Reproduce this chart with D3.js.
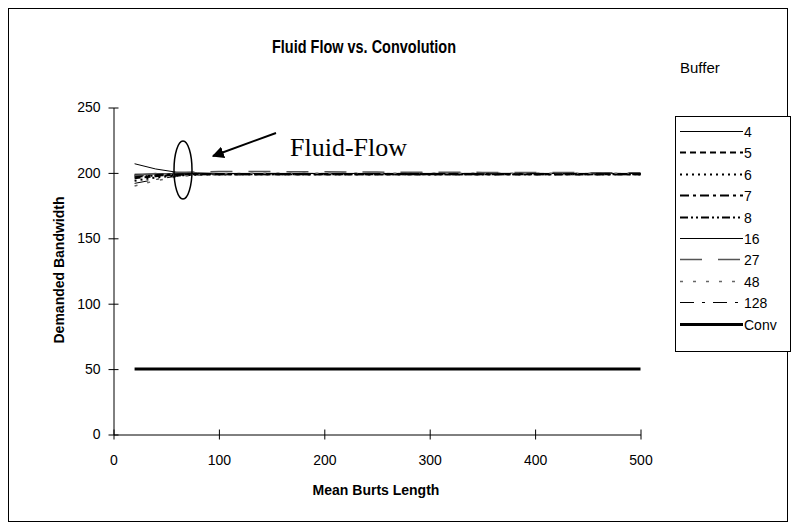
<!DOCTYPE html>
<html>
<head>
<meta charset="utf-8">
<script src="https://cdn.jsdelivr.net/npm/d3@7"></script>
<style>
  html, body { margin: 0; padding: 0; background: #fff; }
  svg { display: block; }
</style>
</head>
<body>
<svg id="chart" width="796" height="530"></svg>
<script>
// ---- Data ----
const xValues = [20, 40, 60, 80, 100, 150, 200, 250, 300, 350, 400, 450, 500];
const buf4   = [207, 203, 200.5, 200, 199.6, 199.6, 199.6, 199.6, 199.6, 199.6, 199.6, 199.6, 199.6];
const buf5   = [196, 197.5, 198.5, 199, 199, 199, 199, 199, 199, 199, 199, 199, 199];
const buf6   = [194, 196.5, 198, 198.6, 199, 199, 199, 199, 199, 199, 199, 199, 199];
const buf7   = [198, 198.5, 199, 199, 199, 199, 199, 199, 199, 199, 199, 199, 199];
const buf8   = [197, 198, 198.5, 199, 199, 199, 199, 199, 199, 199, 199, 199, 199];
const buf16  = [199, 199.2, 199.4, 199.5, 199.5, 199.5, 199.5, 199.5, 199.5, 199.5, 199.5, 199.5, 199.5];
const buf27  = [198, 199.5, 200.3, 200.8, 201, 201, 200.8, 200.6, 200.5, 200.4, 200.3, 200.2, 200.2];
const buf48  = [190, 194, 197, 198.6, 199.4, 199.8, 199.8, 199.8, 199.8, 199.8, 199.8, 199.8, 199.8];
const buf128 = [192, 195, 197.5, 198.8, 199.3, 199.6, 199.6, 199.6, 199.6, 199.6, 199.6, 199.6, 199.6];
const conv   = [50, 50, 50, 50, 50, 50, 50, 50, 50, 50, 50, 50, 50];
const seriesNames = ["4", "5", "6", "7", "8", "16", "27", "48", "128", "Conv"];
const seriesValues = [buf4, buf5, buf6, buf7, buf8, buf16, buf27, buf48, buf128, conv];
const xTicks = [0, 100, 200, 300, 400, 500];
const yTicks = [0, 50, 100, 150, 200, 250];

// ---- Styles ----
const styles = {
  "4":    {stroke: "#000", width: 1, dash: null},
  "5":    {stroke: "#000", width: 2, dash: "6,4"},
  "6":    {stroke: "#000", width: 2, dash: "2,4"},
  "7":    {stroke: "#000", width: 2, dash: "9,4,3,4"},
  "8":    {stroke: "#000", width: 2, dash: "8,3,2,3,2,3"},
  "16":   {stroke: "#000", width: 1, dash: null},
  "27":   {stroke: "#555", width: 1.5, dash: "22,16"},
  "48":   {stroke: "#666", width: 1.5, dash: "3,10"},
  "128":  {stroke: "#000", width: 1, dash: "14,8,3,8"},
  "Conv": {stroke: "#000", width: 3, dash: null}
};

const svg = d3.select("#chart");
const font = "'Liberation Sans', Arial, sans-serif";

// outer border
svg.append("rect").attr("x", 8.5).attr("y", 8.5).attr("width", 779).attr("height", 513)
  .attr("fill", "#fff").attr("stroke", "#000").attr("stroke-width", 1);

const x = d3.scaleLinear().domain([0, 500]).range([113.5, 640.5]);
const y = d3.scaleLinear().domain([0, 250]).range([434.5, 107.5]);

// axes
const xAxis = svg.append("g").attr("transform", `translate(0,${y(0)})`)
  .call(d3.axisBottom(x).tickValues(xTicks).tickSize(5).tickSizeOuter(0));
xAxis.selectAll(".tick line").attr("y1", -5).attr("y2", 5);
xAxis.selectAll(".tick text").attr("dy", 0).attr("y", 30);

const yAxis = svg.append("g").attr("transform", `translate(${x(0)},0)`)
  .call(d3.axisLeft(y).tickValues(yTicks).tickSize(5).tickSizeOuter(0));
yAxis.selectAll(".tick line").attr("x1", -5).attr("x2", 5);
yAxis.selectAll(".tick text").attr("x", -13);

svg.selectAll(".domain").attr("stroke", "#000");
svg.selectAll(".tick line").attr("stroke", "#000");
svg.selectAll(".tick text").attr("font-family", font).attr("font-size", 14).attr("fill", "#000");

// lines
const line = d3.line().x((d, i) => x(xValues[i])).y(d => y(d));
seriesNames.forEach((name, k) => {
  const st = styles[name];
  svg.append("path").datum(seriesValues[k])
    .attr("d", line).attr("fill", "none")
    .attr("stroke", st.stroke).attr("stroke-width", st.width)
    .attr("stroke-dasharray", st.dash);
});

// title and labels
svg.append("text").attr("x", 364).attr("y", 53).attr("text-anchor", "middle")
  .attr("font-family", font).attr("font-weight", "bold").attr("font-size", 18)
  .attr("textLength", 184).attr("lengthAdjust", "spacingAndGlyphs")
  .text("Fluid Flow vs. Convolution");
svg.append("text").attr("x", 680).attr("y", 73)
  .attr("font-family", font).attr("font-size", 15).text("Buffer");
svg.append("text").attr("x", 376).attr("y", 495).attr("text-anchor", "middle")
  .attr("font-family", font).attr("font-weight", "bold").attr("font-size", 14)
  .text("Mean Burts Length");
svg.append("text").attr("transform", "translate(64,270) rotate(-90)").attr("text-anchor", "middle")
  .attr("font-family", font).attr("font-weight", "bold").attr("font-size", 14)
  .text("Demanded Bandwidth");

// legend
const lg = svg.append("g");
lg.append("rect").attr("x", 675.5).attr("y", 116.5).attr("width", 115).attr("height", 235)
  .attr("fill", "#fff").attr("stroke", "#000").attr("stroke-width", 1);
seriesNames.forEach((name, i) => {
  const st = styles[name];
  const ly = Math.round(131 + i * 21.4) + 0.5;
  lg.append("line").attr("x1", 680).attr("x2", 743).attr("y1", ly).attr("y2", ly)
    .attr("stroke", st.stroke).attr("stroke-width", st.width).attr("stroke-dasharray", st.dash);
  lg.append("text").attr("x", 744).attr("y", ly + 5)
    .attr("font-family", font).attr("font-size", 14).text(name);
});

// annotation
svg.append("defs").append("marker").attr("id", "arrow").attr("viewBox", "0 0 10 10")
  .attr("refX", 9).attr("refY", 5).attr("markerWidth", 6).attr("markerHeight", 6)
  .attr("markerUnits", "strokeWidth").attr("orient", "auto")
  .append("path").attr("d", "M0,0 L10,5 L0,10 z").attr("fill", "#000");
svg.append("line").attr("x1", 276).attr("y1", 133).attr("x2", 213).attr("y2", 156)
  .attr("stroke", "#000").attr("stroke-width", 2).attr("marker-end", "url(#arrow)");
svg.append("ellipse").attr("cx", 183).attr("cy", 170).attr("rx", 9).attr("ry", 29)
  .attr("fill", "none").attr("stroke", "#000").attr("stroke-width", 1.5);
svg.append("text").attr("x", 290).attr("y", 156)
  .attr("font-family", "'Liberation Serif', 'Times New Roman', serif").attr("font-size", 26)
  .text("Fluid-Flow");
</script>
</body>
</html>
